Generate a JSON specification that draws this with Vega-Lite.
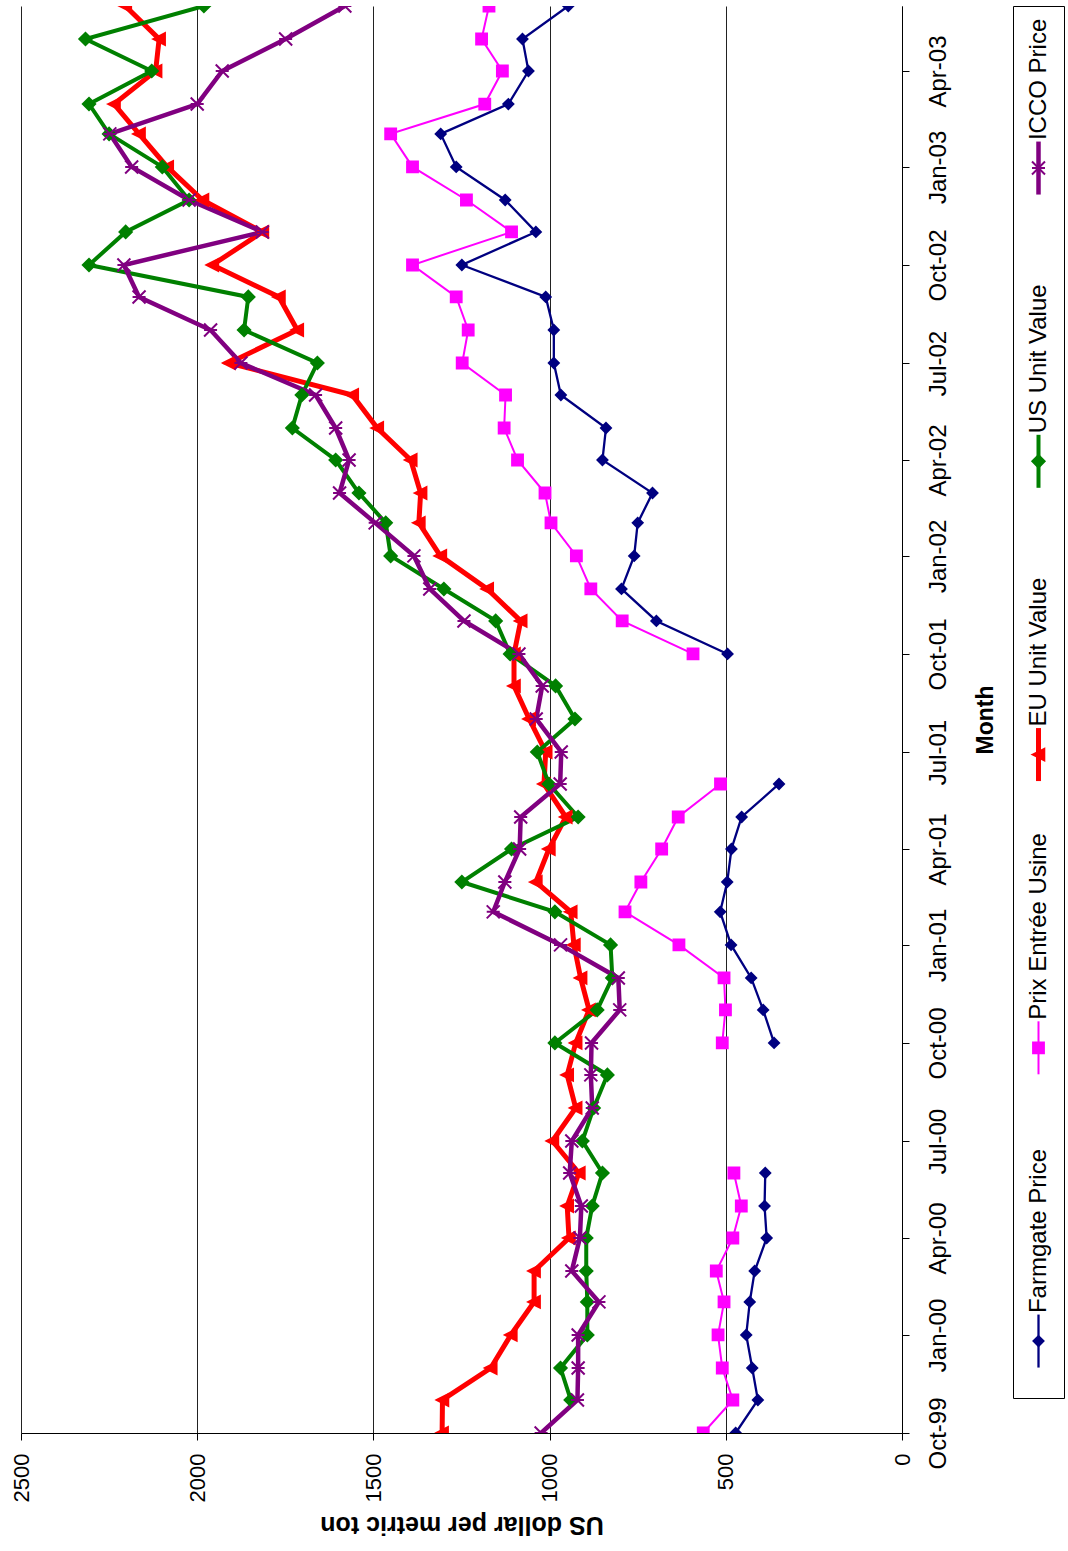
{
"$schema": "https://vega.github.io/schema/vega-lite/v6.json",
"background": "white",
"padding": {"left": 10, "top": 5, "right": 0, "bottom": 0},
"config": {"font": "Liberation Sans", "view": {"stroke": null},
  "axis": {"labelFont": "Liberation Sans", "titleFont": "Liberation Sans", "labelColor": "black", "titleColor": "black", "domainColor": "black", "tickColor": "black"}},
"datasets": {
"series": [{"s":"Farmgate Price"},{"s":"Prix Entrée Usine"},{"s":"EU Unit Value"},{"s":"US Unit Value"},{"s":"ICCO Price"}],
"prices": [
{"d":"1999-10-01","s":"Farmgate Price","v":472},{"d":"1999-10-01","s":"Prix Entrée Usine","v":564},{"d":"1999-10-01","s":"EU Unit Value","v":1305},{"d":"1999-10-01","s":"ICCO Price","v":1024},
{"d":"1999-11-01","s":"Farmgate Price","v":409},{"d":"1999-11-01","s":"Prix Entrée Usine","v":480},{"d":"1999-11-01","s":"EU Unit Value","v":1304},{"d":"1999-11-01","s":"US Unit Value","v":940},{"d":"1999-11-01","s":"ICCO Price","v":921},
{"d":"1999-12-01","s":"Farmgate Price","v":425},{"d":"1999-12-01","s":"Prix Entrée Usine","v":510},{"d":"1999-12-01","s":"EU Unit Value","v":1167},{"d":"1999-12-01","s":"US Unit Value","v":969},{"d":"1999-12-01","s":"ICCO Price","v":919},
{"d":"2000-01-01","s":"Farmgate Price","v":442},{"d":"2000-01-01","s":"Prix Entrée Usine","v":522},{"d":"2000-01-01","s":"EU Unit Value","v":1110},{"d":"2000-01-01","s":"US Unit Value","v":893},{"d":"2000-01-01","s":"ICCO Price","v":919},
{"d":"2000-02-01","s":"Farmgate Price","v":432},{"d":"2000-02-01","s":"Prix Entrée Usine","v":505},{"d":"2000-02-01","s":"EU Unit Value","v":1044},{"d":"2000-02-01","s":"US Unit Value","v":893},{"d":"2000-02-01","s":"ICCO Price","v":860},
{"d":"2000-03-01","s":"Farmgate Price","v":418},{"d":"2000-03-01","s":"Prix Entrée Usine","v":527},{"d":"2000-03-01","s":"EU Unit Value","v":1044},{"d":"2000-03-01","s":"US Unit Value","v":896},{"d":"2000-03-01","s":"ICCO Price","v":937},
{"d":"2000-04-01","s":"Farmgate Price","v":384},{"d":"2000-04-01","s":"Prix Entrée Usine","v":480},{"d":"2000-04-01","s":"EU Unit Value","v":945},{"d":"2000-04-01","s":"US Unit Value","v":896},{"d":"2000-04-01","s":"ICCO Price","v":914},
{"d":"2000-05-01","s":"Farmgate Price","v":390},{"d":"2000-05-01","s":"Prix Entrée Usine","v":456},{"d":"2000-05-01","s":"EU Unit Value","v":950},{"d":"2000-05-01","s":"US Unit Value","v":879},{"d":"2000-05-01","s":"ICCO Price","v":910},
{"d":"2000-06-01","s":"Farmgate Price","v":388},{"d":"2000-06-01","s":"Prix Entrée Usine","v":477},{"d":"2000-06-01","s":"EU Unit Value","v":917},{"d":"2000-06-01","s":"US Unit Value","v":850},{"d":"2000-06-01","s":"ICCO Price","v":943},
{"d":"2000-07-01","s":"Farmgate Price","v":null},{"d":"2000-07-01","s":"Prix Entrée Usine","v":null},{"d":"2000-07-01","s":"EU Unit Value","v":992},{"d":"2000-07-01","s":"US Unit Value","v":907},{"d":"2000-07-01","s":"ICCO Price","v":937},
{"d":"2000-08-01","s":"Farmgate Price","v":null},{"d":"2000-08-01","s":"Prix Entrée Usine","v":null},{"d":"2000-08-01","s":"EU Unit Value","v":926},{"d":"2000-08-01","s":"US Unit Value","v":875},{"d":"2000-08-01","s":"ICCO Price","v":879},
{"d":"2000-09-01","s":"Farmgate Price","v":null},{"d":"2000-09-01","s":"Prix Entrée Usine","v":null},{"d":"2000-09-01","s":"EU Unit Value","v":950},{"d":"2000-09-01","s":"US Unit Value","v":836},{"d":"2000-09-01","s":"ICCO Price","v":883},
{"d":"2000-10-01","s":"Farmgate Price","v":363},{"d":"2000-10-01","s":"Prix Entrée Usine","v":510},{"d":"2000-10-01","s":"EU Unit Value","v":926},{"d":"2000-10-01","s":"US Unit Value","v":985},{"d":"2000-10-01","s":"ICCO Price","v":881},
{"d":"2000-11-01","s":"Farmgate Price","v":394},{"d":"2000-11-01","s":"Prix Entrée Usine","v":501},{"d":"2000-11-01","s":"EU Unit Value","v":888},{"d":"2000-11-01","s":"US Unit Value","v":865},{"d":"2000-11-01","s":"ICCO Price","v":801},
{"d":"2000-12-01","s":"Farmgate Price","v":428},{"d":"2000-12-01","s":"Prix Entrée Usine","v":505},{"d":"2000-12-01","s":"EU Unit Value","v":912},{"d":"2000-12-01","s":"US Unit Value","v":822},{"d":"2000-12-01","s":"ICCO Price","v":805},
{"d":"2001-01-01","s":"Farmgate Price","v":485},{"d":"2001-01-01","s":"Prix Entrée Usine","v":633},{"d":"2001-01-01","s":"EU Unit Value","v":931},{"d":"2001-01-01","s":"US Unit Value","v":827},{"d":"2001-01-01","s":"ICCO Price","v":969},
{"d":"2001-02-01","s":"Farmgate Price","v":516},{"d":"2001-02-01","s":"Prix Entrée Usine","v":786},{"d":"2001-02-01","s":"EU Unit Value","v":940},{"d":"2001-02-01","s":"US Unit Value","v":985},{"d":"2001-02-01","s":"ICCO Price","v":1160},
{"d":"2001-03-01","s":"Farmgate Price","v":496},{"d":"2001-03-01","s":"Prix Entrée Usine","v":741},{"d":"2001-03-01","s":"EU Unit Value","v":1039},{"d":"2001-03-01","s":"US Unit Value","v":1249},{"d":"2001-03-01","s":"ICCO Price","v":1127},
{"d":"2001-04-01","s":"Farmgate Price","v":484},{"d":"2001-04-01","s":"Prix Entrée Usine","v":682},{"d":"2001-04-01","s":"EU Unit Value","v":1002},{"d":"2001-04-01","s":"US Unit Value","v":1108},{"d":"2001-04-01","s":"ICCO Price","v":1085},
{"d":"2001-05-01","s":"Farmgate Price","v":455},{"d":"2001-05-01","s":"Prix Entrée Usine","v":635},{"d":"2001-05-01","s":"EU Unit Value","v":954},{"d":"2001-05-01","s":"US Unit Value","v":919},{"d":"2001-05-01","s":"ICCO Price","v":1082},
{"d":"2001-06-01","s":"Farmgate Price","v":349},{"d":"2001-06-01","s":"Prix Entrée Usine","v":515},{"d":"2001-06-01","s":"EU Unit Value","v":1016},{"d":"2001-06-01","s":"US Unit Value","v":1002},{"d":"2001-06-01","s":"ICCO Price","v":970},
{"d":"2001-07-01","s":"Farmgate Price","v":null},{"d":"2001-07-01","s":"Prix Entrée Usine","v":null},{"d":"2001-07-01","s":"EU Unit Value","v":1011},{"d":"2001-07-01","s":"US Unit Value","v":1035},{"d":"2001-07-01","s":"ICCO Price","v":967},
{"d":"2001-08-01","s":"Farmgate Price","v":null},{"d":"2001-08-01","s":"Prix Entrée Usine","v":null},{"d":"2001-08-01","s":"EU Unit Value","v":1058},{"d":"2001-08-01","s":"US Unit Value","v":928},{"d":"2001-08-01","s":"ICCO Price","v":1038},
{"d":"2001-09-01","s":"Farmgate Price","v":null},{"d":"2001-09-01","s":"Prix Entrée Usine","v":null},{"d":"2001-09-01","s":"EU Unit Value","v":1101},{"d":"2001-09-01","s":"US Unit Value","v":983},{"d":"2001-09-01","s":"ICCO Price","v":1021},
{"d":"2001-10-01","s":"Farmgate Price","v":495},{"d":"2001-10-01","s":"Prix Entrée Usine","v":593},{"d":"2001-10-01","s":"EU Unit Value","v":1101},{"d":"2001-10-01","s":"US Unit Value","v":1112},{"d":"2001-10-01","s":"ICCO Price","v":1087},
{"d":"2001-11-01","s":"Farmgate Price","v":697},{"d":"2001-11-01","s":"Prix Entrée Usine","v":794},{"d":"2001-11-01","s":"EU Unit Value","v":1082},{"d":"2001-11-01","s":"US Unit Value","v":1153},{"d":"2001-11-01","s":"ICCO Price","v":1243},
{"d":"2001-12-01","s":"Farmgate Price","v":796},{"d":"2001-12-01","s":"Prix Entrée Usine","v":883},{"d":"2001-12-01","s":"EU Unit Value","v":1177},{"d":"2001-12-01","s":"US Unit Value","v":1300},{"d":"2001-12-01","s":"ICCO Price","v":1340},
{"d":"2002-01-01","s":"Farmgate Price","v":760},{"d":"2002-01-01","s":"Prix Entrée Usine","v":924},{"d":"2002-01-01","s":"EU Unit Value","v":1310},{"d":"2002-01-01","s":"US Unit Value","v":1451},{"d":"2002-01-01","s":"ICCO Price","v":1385},
{"d":"2002-02-01","s":"Farmgate Price","v":750},{"d":"2002-02-01","s":"Prix Entrée Usine","v":996},{"d":"2002-02-01","s":"EU Unit Value","v":1371},{"d":"2002-02-01","s":"US Unit Value","v":1465},{"d":"2002-02-01","s":"ICCO Price","v":1495},
{"d":"2002-03-01","s":"Farmgate Price","v":708},{"d":"2002-03-01","s":"Prix Entrée Usine","v":1013},{"d":"2002-03-01","s":"EU Unit Value","v":1366},{"d":"2002-03-01","s":"US Unit Value","v":1541},{"d":"2002-03-01","s":"ICCO Price","v":1596},
{"d":"2002-04-01","s":"Farmgate Price","v":850},{"d":"2002-04-01","s":"Prix Entrée Usine","v":1091},{"d":"2002-04-01","s":"EU Unit Value","v":1394},{"d":"2002-04-01","s":"US Unit Value","v":1607},{"d":"2002-04-01","s":"ICCO Price","v":1569},
{"d":"2002-05-01","s":"Farmgate Price","v":840},{"d":"2002-05-01","s":"Prix Entrée Usine","v":1129},{"d":"2002-05-01","s":"EU Unit Value","v":1489},{"d":"2002-05-01","s":"US Unit Value","v":1730},{"d":"2002-05-01","s":"ICCO Price","v":1607},
{"d":"2002-06-01","s":"Farmgate Price","v":968},{"d":"2002-06-01","s":"Prix Entrée Usine","v":1125},{"d":"2002-06-01","s":"EU Unit Value","v":1560},{"d":"2002-06-01","s":"US Unit Value","v":1703},{"d":"2002-06-01","s":"ICCO Price","v":1664},
{"d":"2002-07-01","s":"Farmgate Price","v":988},{"d":"2002-07-01","s":"Prix Entrée Usine","v":1248},{"d":"2002-07-01","s":"EU Unit Value","v":1910},{"d":"2002-07-01","s":"US Unit Value","v":1659},{"d":"2002-07-01","s":"ICCO Price","v":1876},
{"d":"2002-08-01","s":"Farmgate Price","v":988},{"d":"2002-08-01","s":"Prix Entrée Usine","v":1231},{"d":"2002-08-01","s":"EU Unit Value","v":1716},{"d":"2002-08-01","s":"US Unit Value","v":1867},{"d":"2002-08-01","s":"ICCO Price","v":1962},
{"d":"2002-09-01","s":"Farmgate Price","v":1011},{"d":"2002-09-01","s":"Prix Entrée Usine","v":1265},{"d":"2002-09-01","s":"EU Unit Value","v":1768},{"d":"2002-09-01","s":"US Unit Value","v":1855},{"d":"2002-09-01","s":"ICCO Price","v":2165},
{"d":"2002-10-01","s":"Farmgate Price","v":1249},{"d":"2002-10-01","s":"Prix Entrée Usine","v":1389},{"d":"2002-10-01","s":"EU Unit Value","v":1957},{"d":"2002-10-01","s":"US Unit Value","v":2307},{"d":"2002-10-01","s":"ICCO Price","v":2208},
{"d":"2002-11-01","s":"Farmgate Price","v":1039},{"d":"2002-11-01","s":"Prix Entrée Usine","v":1108},{"d":"2002-11-01","s":"EU Unit Value","v":1815},{"d":"2002-11-01","s":"US Unit Value","v":2203},{"d":"2002-11-01","s":"ICCO Price","v":1815},
{"d":"2002-12-01","s":"Farmgate Price","v":1126},{"d":"2002-12-01","s":"Prix Entrée Usine","v":1236},{"d":"2002-12-01","s":"EU Unit Value","v":1985},{"d":"2002-12-01","s":"US Unit Value","v":2023},{"d":"2002-12-01","s":"ICCO Price","v":2023},
{"d":"2003-01-01","s":"Farmgate Price","v":1265},{"d":"2003-01-01","s":"Prix Entrée Usine","v":1389},{"d":"2003-01-01","s":"EU Unit Value","v":2085},{"d":"2003-01-01","s":"US Unit Value","v":2099},{"d":"2003-01-01","s":"ICCO Price","v":2186},
{"d":"2003-02-01","s":"Farmgate Price","v":1309},{"d":"2003-02-01","s":"Prix Entrée Usine","v":1451},{"d":"2003-02-01","s":"EU Unit Value","v":2165},{"d":"2003-02-01","s":"US Unit Value","v":2250},{"d":"2003-02-01","s":"ICCO Price","v":2248},
{"d":"2003-03-01","s":"Farmgate Price","v":1117},{"d":"2003-03-01","s":"Prix Entrée Usine","v":1184},{"d":"2003-03-01","s":"EU Unit Value","v":2236},{"d":"2003-03-01","s":"US Unit Value","v":2307},{"d":"2003-03-01","s":"ICCO Price","v":2000},
{"d":"2003-04-01","s":"Farmgate Price","v":1060},{"d":"2003-04-01","s":"Prix Entrée Usine","v":1134},{"d":"2003-04-01","s":"EU Unit Value","v":2118},{"d":"2003-04-01","s":"US Unit Value","v":2129},{"d":"2003-04-01","s":"ICCO Price","v":1929},
{"d":"2003-05-01","s":"Farmgate Price","v":1077},{"d":"2003-05-01","s":"Prix Entrée Usine","v":1193},{"d":"2003-05-01","s":"EU Unit Value","v":2108},{"d":"2003-05-01","s":"US Unit Value","v":2317},{"d":"2003-05-01","s":"ICCO Price","v":1749},
{"d":"2003-06-01","s":"Farmgate Price","v":947},{"d":"2003-06-01","s":"Prix Entrée Usine","v":1172},{"d":"2003-06-01","s":"EU Unit Value","v":2204},{"d":"2003-06-01","s":"US Unit Value","v":1981},{"d":"2003-06-01","s":"ICCO Price","v":1581}
]},
"spacing": 15,
"resolve": {"scale": {"x": "independent", "y": "independent"}},
"hconcat": [
{
  "width": 881, "height": 1427,
  "data": {"name": "prices"},
  "encoding": {
    "x": {"field": "v", "type": "quantitative",
      "scale": {"domain": [0, 2500], "reverse": true, "nice": false, "zero": true},
      "axis": {"orient": "bottom", "title": "US dollar per metric ton", "values": [0, 500, 1000, 1500, 2000, 2500], "format": "d",
        "labelAngle": 270, "labelAlign": "right", "labelBaseline": "middle", "labelPadding": 13, "labelFontSize": 22,
        "labelFlush": false, "labelOverlap": false, "tickSize": 7, "grid": true, "gridColor": "#222", "gridOpacity": 1,
        "titleAngle": 180, "titleBaseline": "bottom", "titleFontSize": 25, "titleFontWeight": "bold", "titlePadding": 10}},
    "y": {"field": "d", "type": "temporal",
      "scale": {"type": "utc", "domain": [{"year": 1999, "month": 10, "date": 1, "utc": true}, {"year": 2003, "month": 6, "date": 1, "utc": true}]},
      "axis": {"orient": "right", "title": "Month", "format": "%b-%y", "tickCount": {"interval": "month", "step": 3},
        "grid": false, "labelAngle": 270, "labelAlign": "center", "labelBaseline": "top", "labelPadding": 17, "labelFontSize": 24,
        "labelFlush": false, "labelOverlap": false, "tickSize": 7,
        "titleAngle": 270, "titleBaseline": "top", "titleFontSize": 23, "titleFontWeight": "bold", "titlePadding": 24}},
    "order": {"field": "d", "type": "temporal"}
  },
  "layer": [
    {"transform": [{"filter": "datum.s === 'Farmgate Price'"}], "mark": {"type": "line", "clip": true, "color": "#000080", "strokeWidth": 2.3}},
    {"transform": [{"filter": "datum.s === 'Prix Entrée Usine'"}], "mark": {"type": "line", "clip": true, "color": "#FF00FF", "strokeWidth": 2}},
    {"transform": [{"filter": "datum.s === 'EU Unit Value'"}], "mark": {"type": "line", "clip": true, "color": "#FF0000", "strokeWidth": 5}},
    {"transform": [{"filter": "datum.s === 'US Unit Value'"}], "mark": {"type": "line", "clip": true, "color": "#008000", "strokeWidth": 4}},
    {"transform": [{"filter": "datum.s === 'ICCO Price'"}], "mark": {"type": "line", "clip": true, "color": "#800080", "strokeWidth": 4.5}},
    {"mark": {"type": "point", "filled": true, "clip": true, "opacity": 1, "strokeWidth": 2},
     "encoding": {
       "fill": {"field": "s", "type": "nominal", "legend": null,
         "scale": {"domain": ["Farmgate Price", "Prix Entrée Usine", "EU Unit Value", "US Unit Value", "ICCO Price"], "range": ["#000080", "#FF00FF", "#FF0000", "#008000", "#800080"]}},
       "stroke": {"field": "s", "type": "nominal", "legend": null,
         "scale": {"domain": ["Farmgate Price", "Prix Entrée Usine", "EU Unit Value", "US Unit Value", "ICCO Price"], "range": ["#000080", "#FF00FF", "#FF0000", "#008000", "#800080"]}},
       "shape": {"field": "s", "type": "nominal", "legend": null,
         "scale": {"domain": ["Farmgate Price", "Prix Entrée Usine", "EU Unit Value", "US Unit Value", "ICCO Price"], "range": ["diamond", "square", "M-1,0L1,-1L1,1Z", "diamond", "M-1,-1L1,1M-1,1L1,-1M-1,0L1,0"]}},
       "size": {"field": "s", "type": "nominal", "legend": null,
         "scale": {"domain": ["Farmgate Price", "Prix Entrée Usine", "EU Unit Value", "US Unit Value", "ICCO Price"], "range": [100, 169, 225, 324, 289]}}
     }}
  ]
},
{
  "width": 51, "height": 1392,
  "view": {"stroke": "black", "strokeWidth": 1},
  "data": {"name": "series"},
  "encoding": {
    "y": {"field": "s", "type": "nominal", "axis": null,
      "scale": {"type": "point", "domain": ["ICCO Price", "US Unit Value", "EU Unit Value", "Prix Entrée Usine", "Farmgate Price"], "padding": 0.3734, "align": 0.74}}
  },
  "layer": [
    {"transform": [{"filter": "datum.s === 'Farmgate Price'"}], "mark": {"type": "point", "filled": false, "opacity": 1, "shape": "M0,-1L0,1", "size": 2809, "color": "#000080", "strokeWidth": 2.3}},
    {"transform": [{"filter": "datum.s === 'Prix Entrée Usine'"}], "mark": {"type": "point", "filled": false, "opacity": 1, "shape": "M0,-1L0,1", "size": 2809, "color": "#FF00FF", "strokeWidth": 2}},
    {"transform": [{"filter": "datum.s === 'EU Unit Value'"}], "mark": {"type": "point", "filled": false, "opacity": 1, "shape": "M0,-1L0,1", "size": 2809, "color": "#FF0000", "strokeWidth": 5}},
    {"transform": [{"filter": "datum.s === 'US Unit Value'"}], "mark": {"type": "point", "filled": false, "opacity": 1, "shape": "M0,-1L0,1", "size": 2809, "color": "#008000", "strokeWidth": 4}},
    {"transform": [{"filter": "datum.s === 'ICCO Price'"}], "mark": {"type": "point", "filled": false, "opacity": 1, "shape": "M0,-1L0,1", "size": 2809, "color": "#800080", "strokeWidth": 4.5}},
    {"mark": {"type": "point", "filled": true, "opacity": 1, "strokeWidth": 2},
     "encoding": {
       "fill": {"field": "s", "type": "nominal", "legend": null,
         "scale": {"domain": ["Farmgate Price", "Prix Entrée Usine", "EU Unit Value", "US Unit Value", "ICCO Price"], "range": ["#000080", "#FF00FF", "#FF0000", "#008000", "#800080"]}},
       "stroke": {"field": "s", "type": "nominal", "legend": null,
         "scale": {"domain": ["Farmgate Price", "Prix Entrée Usine", "EU Unit Value", "US Unit Value", "ICCO Price"], "range": ["#000080", "#FF00FF", "#FF0000", "#008000", "#800080"]}},
       "shape": {"field": "s", "type": "nominal", "legend": null,
         "scale": {"domain": ["Farmgate Price", "Prix Entrée Usine", "EU Unit Value", "US Unit Value", "ICCO Price"], "range": ["diamond", "square", "M-1,0L1,-1L1,1Z", "diamond", "M-1,-1L1,1M-1,1L1,-1M-1,0L1,0"]}},
       "size": {"field": "s", "type": "nominal", "legend": null,
         "scale": {"domain": ["Farmgate Price", "Prix Entrée Usine", "EU Unit Value", "US Unit Value", "ICCO Price"], "range": [100, 169, 225, 324, 289]}}
     }},
    {"mark": {"type": "text", "angle": 270, "align": "left", "baseline": "middle", "dx": 28, "fontSize": 24, "font": "Liberation Sans", "color": "black"},
     "encoding": {"text": {"field": "s", "type": "nominal"}}}
  ]
}
]
}
